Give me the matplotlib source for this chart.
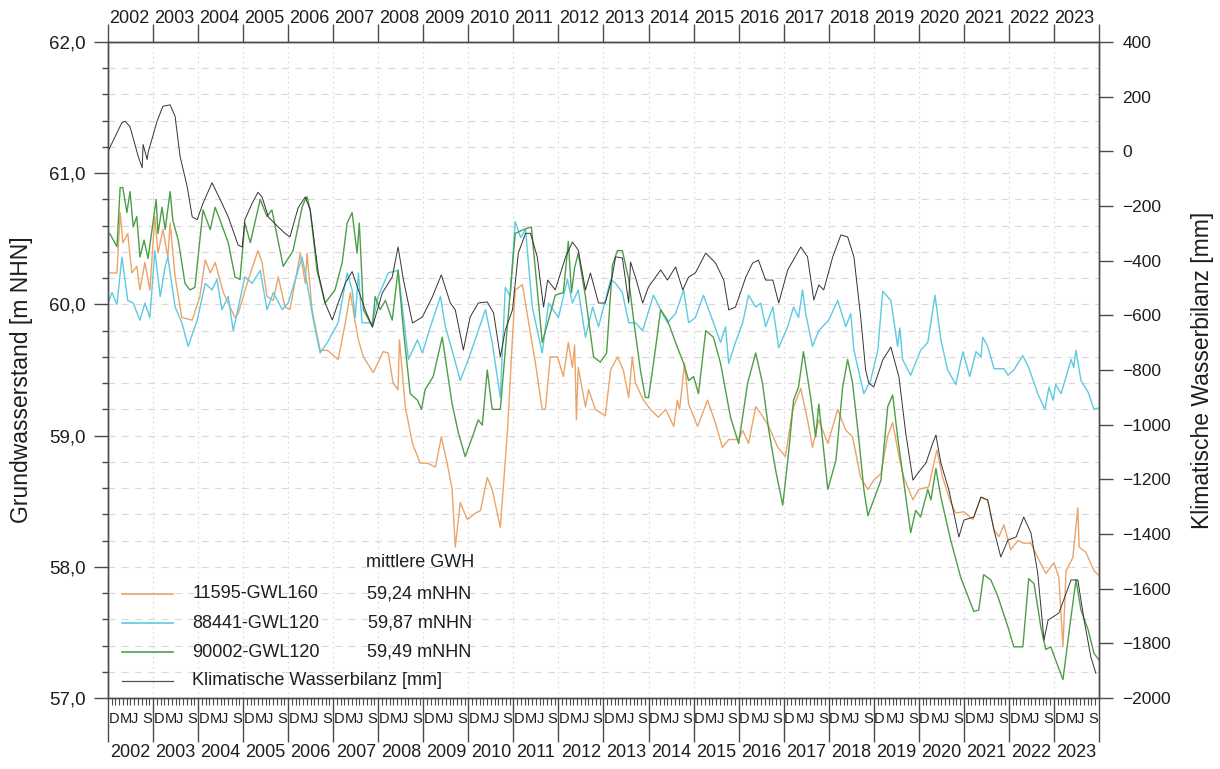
import matplotlib
matplotlib.use('Agg')
import matplotlib.pyplot as plt
from matplotlib.ticker import FuncFormatter, MultipleLocator
from matplotlib.lines import Line2D
import numpy as np

plt.rcParams['font.family'] = ['Liberation Sans', 'DejaVu Sans']

# --- data (decimal years, m NHN / mm) ---
gwl11595_year = [2002.04, 2002.20, 2002.27, 2002.33, 2002.44, 2002.53, 2002.64, 2002.71, 2002.82, 2002.93,
                 2003.04, 2003.11, 2003.22, 2003.33, 2003.38, 2003.49, 2003.64, 2003.87, 2004.04, 2004.16,
                 2004.27, 2004.38, 2004.56, 2004.82, 2004.89, 2005.09, 2005.33, 2005.42, 2005.53, 2005.67,
                 2005.78, 2005.93, 2006.04, 2006.27, 2006.38, 2006.42, 2006.53, 2006.71, 2006.87, 2007.04,
                 2007.11, 2007.27, 2007.38, 2007.49, 2007.56, 2007.67, 2007.89, 2008.11, 2008.22, 2008.33,
                 2008.44, 2008.47, 2008.60, 2008.76, 2008.93, 2009.09, 2009.27, 2009.40, 2009.53, 2009.64,
                 2009.71, 2009.82, 2009.98, 2010.16, 2010.27, 2010.42, 2010.53, 2010.71, 2010.87, 2010.98,
                 2011.04, 2011.20, 2011.33, 2011.49, 2011.64, 2011.71, 2011.82, 2011.98, 2012.11, 2012.22,
                 2012.31, 2012.36, 2012.40, 2012.44, 2012.60, 2012.67, 2012.82, 2013.04, 2013.16, 2013.31,
                 2013.44, 2013.56, 2013.64, 2013.71, 2013.89, 2014.04, 2014.22, 2014.38, 2014.56, 2014.64,
                 2014.69, 2014.80, 2014.89, 2015.09, 2015.31, 2015.49, 2015.64, 2015.78, 2016.00, 2016.09,
                 2016.22, 2016.38, 2016.49, 2016.67, 2016.87, 2017.04, 2017.20, 2017.38, 2017.53, 2017.64,
                 2017.78, 2017.98, 2018.20, 2018.38, 2018.53, 2018.71, 2018.87, 2019.00, 2019.16, 2019.31,
                 2019.42, 2019.56, 2019.67, 2019.87, 2020.00, 2020.22, 2020.40, 2020.53, 2020.71, 2020.82,
                 2021.00, 2021.20, 2021.38, 2021.53, 2021.67, 2021.78, 2021.89, 2022.04, 2022.20, 2022.33,
                 2022.49, 2022.67, 2022.82, 2023.00, 2023.11, 2023.20, 2023.27, 2023.42, 2023.53, 2023.56,
                 2023.71, 2023.89, 2023.98]
gwl11595_level = [60.24, 60.24, 60.70, 60.47, 60.54, 60.24, 60.29, 60.11, 60.32, 60.11,
                  60.67, 60.39, 60.57, 60.36, 60.62, 60.21, 59.90, 59.88, 60.06, 60.34,
                  60.24, 60.32, 60.09, 59.90, 59.93, 60.16, 60.41, 60.32, 60.06, 60.03,
                  60.21, 59.98, 59.96, 60.39, 60.16, 60.39, 59.96, 59.65, 59.65, 59.60,
                  59.58, 59.86, 60.09, 59.86, 59.73, 59.60, 59.48, 59.64, 59.63, 59.40,
                  59.35, 59.73, 59.22, 58.94, 58.79, 58.79, 58.76, 58.99, 58.79, 58.59,
                  58.15, 58.49, 58.36, 58.41, 58.43, 58.68, 58.59, 58.30, 59.04, 59.75,
                  60.11, 60.15, 59.88, 59.55, 59.20, 59.20, 59.60, 59.60, 59.45, 59.71,
                  59.52, 59.69, 59.12, 59.52, 59.22, 59.35, 59.20, 59.15, 59.50, 59.60,
                  59.50, 59.29, 59.60, 59.40, 59.27, 59.20, 59.14, 59.20, 59.07, 59.27,
                  59.20, 59.55, 59.24, 59.07, 59.27, 59.09, 58.91, 58.97, 58.97, 59.04,
                  58.94, 59.22, 59.17, 59.07, 58.91, 58.84, 59.20, 59.36, 59.12, 58.91,
                  59.12, 58.94, 59.20, 59.04, 58.99, 58.68, 58.59, 58.66, 58.71, 59.00,
                  59.10, 58.84, 58.68, 58.51, 58.59, 58.61, 58.89, 58.68, 58.49, 58.41,
                  58.42, 58.36, 58.53, 58.51, 58.28, 58.23, 58.32, 58.13, 58.20, 58.18,
                  58.18, 58.05, 57.95, 58.03, 57.92, 57.39, 57.97, 58.07, 58.45, 58.15,
                  58.11, 57.97, 57.94]

gwl88441_year = [2002.00, 2002.09, 2002.20, 2002.31, 2002.44, 2002.56, 2002.71, 2002.82, 2002.93, 2003.04,
                 2003.16, 2003.27, 2003.33, 2003.49, 2003.64, 2003.78, 2003.98, 2004.16, 2004.31, 2004.42,
                 2004.53, 2004.67, 2004.78, 2005.04, 2005.20, 2005.38, 2005.53, 2005.67, 2005.87, 2006.00,
                 2006.31, 2006.42, 2006.56, 2006.71, 2006.87, 2007.11, 2007.31, 2007.42, 2007.49, 2007.56,
                 2007.64, 2007.87, 2008.00, 2008.22, 2008.44, 2008.67, 2008.87, 2008.98, 2009.16, 2009.38,
                 2009.49, 2009.64, 2009.82, 2010.00, 2010.20, 2010.38, 2010.53, 2010.71, 2010.82, 2010.93,
                 2011.04, 2011.16, 2011.27, 2011.42, 2011.64, 2011.78, 2012.00, 2012.20, 2012.31, 2012.44,
                 2012.60, 2012.76, 2012.89, 2013.16, 2013.27, 2013.42, 2013.56, 2013.71, 2013.87, 2014.11,
                 2014.31, 2014.42, 2014.60, 2014.78, 2014.89, 2015.04, 2015.22, 2015.42, 2015.60, 2015.71,
                 2015.78, 2015.93, 2016.09, 2016.22, 2016.38, 2016.49, 2016.60, 2016.76, 2016.89, 2017.09,
                 2017.22, 2017.33, 2017.42, 2017.49, 2017.64, 2017.78, 2018.00, 2018.20, 2018.38, 2018.49,
                 2018.56, 2018.78, 2018.93, 2019.09, 2019.20, 2019.38, 2019.53, 2019.58, 2019.64, 2019.82,
                 2020.04, 2020.20, 2020.36, 2020.49, 2020.64, 2020.82, 2020.98, 2021.13, 2021.27, 2021.38,
                 2021.42, 2021.53, 2021.67, 2021.89, 2021.98, 2022.11, 2022.31, 2022.44, 2022.64, 2022.80,
                 2022.89, 2022.98, 2023.04, 2023.16, 2023.38, 2023.44, 2023.49, 2023.60, 2023.76, 2023.89,
                 2023.98]
gwl88441_level = [60.01, 60.09, 60.00, 60.36, 60.03, 60.01, 59.88, 60.01, 59.90, 60.41,
                  60.06, 60.29, 60.36, 59.98, 59.86, 59.68, 59.88, 60.16, 60.11, 60.19,
                  59.96, 60.06, 59.80, 60.21, 60.16, 60.26, 59.96, 60.09, 59.96, 60.01,
                  60.36, 60.16, 59.88, 59.63, 59.71, 59.86, 60.24, 60.11, 59.90, 60.24,
                  59.86, 59.86, 60.06, 60.24, 60.26, 59.58, 59.73, 59.63, 59.83, 60.06,
                  59.83, 59.65, 59.42, 59.58, 59.78, 59.96, 59.71, 59.29, 60.13, 60.06,
                  60.63, 60.51, 60.57, 59.98, 59.63, 60.01, 59.90, 60.19, 60.01, 60.11,
                  59.75, 59.98, 59.83, 60.19, 60.16, 60.09, 59.86, 59.86, 59.80, 60.07,
                  59.93, 59.86, 59.93, 60.11, 59.86, 59.90, 60.07, 59.88, 59.71, 59.83,
                  59.55, 59.71, 59.86, 60.07, 59.98, 60.01, 59.83, 59.98, 59.67, 59.83,
                  59.98, 59.90, 60.11, 59.93, 59.68, 59.80, 59.88, 60.03, 59.83, 59.93,
                  59.65, 59.32, 59.42, 59.65, 60.10, 60.03, 59.68, 59.82, 59.58, 59.46,
                  59.65, 59.71, 60.07, 59.73, 59.50, 59.39, 59.64, 59.45, 59.64, 59.60,
                  59.75, 59.68, 59.51, 59.51, 59.46, 59.50, 59.61, 59.52, 59.32, 59.20,
                  59.37, 59.27, 59.39, 59.32, 59.58, 59.52, 59.65, 59.42, 59.33, 59.20,
                  59.21]

gwl90002_year = [2002.04, 2002.20, 2002.27, 2002.33, 2002.42, 2002.49, 2002.56, 2002.64, 2002.71, 2002.80,
                 2002.89, 2003.07, 2003.11, 2003.20, 2003.27, 2003.38, 2003.44, 2003.56, 2003.71, 2003.82,
                 2003.93, 2004.11, 2004.27, 2004.38, 2004.49, 2004.67, 2004.82, 2004.93, 2005.04, 2005.16,
                 2005.38, 2005.53, 2005.64, 2005.89, 2006.11, 2006.31, 2006.38, 2006.42, 2006.49, 2006.64,
                 2006.82, 2007.04, 2007.20, 2007.31, 2007.42, 2007.53, 2007.58, 2007.67, 2007.87, 2007.93,
                 2008.04, 2008.16, 2008.31, 2008.44, 2008.56, 2008.71, 2008.87, 2008.96, 2009.04, 2009.22,
                 2009.42, 2009.64, 2009.78, 2009.93, 2010.09, 2010.22, 2010.31, 2010.42, 2010.53, 2010.71,
                 2010.89, 2011.04, 2011.22, 2011.40, 2011.49, 2011.64, 2011.78, 2011.93, 2012.11, 2012.22,
                 2012.29, 2012.36, 2012.44, 2012.60, 2012.78, 2012.93, 2013.07, 2013.20, 2013.31, 2013.42,
                 2013.56, 2013.67, 2013.82, 2013.93, 2014.00, 2014.11, 2014.27, 2014.42, 2014.60, 2014.78,
                 2014.89, 2015.00, 2015.11, 2015.27, 2015.44, 2015.60, 2015.82, 2016.00, 2016.20, 2016.38,
                 2016.53, 2016.67, 2016.82, 2016.98, 2017.11, 2017.22, 2017.33, 2017.44, 2017.60, 2017.71,
                 2017.78, 2017.98, 2018.16, 2018.31, 2018.42, 2018.53, 2018.67, 2018.78, 2018.87, 2019.00,
                 2019.16, 2019.31, 2019.42, 2019.53, 2019.67, 2019.82, 2019.93, 2020.04, 2020.20, 2020.27,
                 2020.38, 2020.49, 2020.71, 2020.93, 2021.22, 2021.33, 2021.44, 2021.60, 2021.76, 2021.98,
                 2022.11, 2022.31, 2022.44, 2022.56, 2022.71, 2022.82, 2022.93, 2023.20, 2023.38, 2023.49,
                 2023.60, 2023.76, 2023.89, 2024.00]
gwl90002_level = [60.54, 60.44, 60.89, 60.89, 60.70, 60.86, 60.59, 60.67, 60.36, 60.49,
                  60.35, 60.80, 60.54, 60.74, 60.57, 60.86, 60.64, 60.49, 60.16, 60.11,
                  60.13, 60.72, 60.57, 60.74, 60.64, 60.47, 60.21, 60.19, 60.62, 60.47,
                  60.80, 60.67, 60.72, 60.29, 60.41, 60.74, 60.80, 60.82, 60.72, 60.26,
                  60.01, 60.11, 60.32, 60.62, 60.70, 60.39, 60.62, 59.96, 59.83, 60.06,
                  59.96, 60.03, 59.88, 60.26, 59.80, 59.32, 59.27, 59.20, 59.35, 59.45,
                  59.75, 59.24, 59.02, 58.84, 58.99, 59.12, 59.08, 59.50, 59.20, 59.20,
                  59.93, 60.54, 60.57, 60.59, 60.26, 59.71, 59.88, 60.07, 60.09, 60.48,
                  60.09, 60.28, 60.39, 60.06, 59.60, 59.56, 59.63, 60.30, 60.41, 60.41,
                  60.19, 59.88, 59.50, 59.29, 59.29, 59.55, 59.96, 59.88, 59.71, 59.55,
                  59.42, 59.45, 59.32, 59.80, 59.75, 59.55, 59.14, 58.94, 59.40, 59.63,
                  59.40, 59.04, 58.74, 58.47, 58.87, 59.27, 59.37, 59.64, 59.29, 58.99,
                  59.24, 58.59, 58.81, 59.37, 59.58, 59.40, 58.97, 58.59, 58.39, 58.51,
                  58.66, 59.22, 59.31, 58.99, 58.64, 58.26, 58.43, 58.38, 58.59, 58.51,
                  58.75, 58.53, 58.20, 57.92, 57.66, 57.67, 57.94, 57.90, 57.77, 57.54,
                  57.39, 57.39, 57.91, 57.87, 57.54, 57.37, 57.39, 57.14, 57.62, 57.90,
                  57.67, 57.52, 57.34, 57.29]

kwb_year = [2002.00, 2002.31, 2002.38, 2002.49, 2002.67, 2002.76, 2002.78, 2002.87, 2002.89, 2003.09,
            2003.22, 2003.38, 2003.49, 2003.60, 2003.76, 2003.87, 2003.98, 2004.11, 2004.31, 2004.49,
            2004.67, 2004.89, 2004.98, 2005.04, 2005.20, 2005.33, 2005.42, 2005.56, 2005.78, 2005.93,
            2006.04, 2006.22, 2006.38, 2006.49, 2006.67, 2006.82, 2006.98, 2007.11, 2007.27, 2007.42,
            2007.56, 2007.71, 2007.87, 2008.09, 2008.31, 2008.44, 2008.56, 2008.76, 2008.98, 2009.20,
            2009.40, 2009.60, 2009.71, 2009.89, 2010.04, 2010.22, 2010.42, 2010.56, 2010.71, 2010.82,
            2010.98, 2011.11, 2011.27, 2011.38, 2011.53, 2011.67, 2011.76, 2011.93, 2012.16, 2012.31,
            2012.44, 2012.60, 2012.71, 2012.89, 2013.04, 2013.18, 2013.27, 2013.42, 2013.56, 2013.60,
            2013.71, 2013.87, 2014.00, 2014.27, 2014.42, 2014.60, 2014.76, 2014.89, 2015.04, 2015.27,
            2015.49, 2015.67, 2015.78, 2015.93, 2016.16, 2016.31, 2016.44, 2016.60, 2016.76, 2016.89,
            2017.09, 2017.38, 2017.53, 2017.67, 2017.78, 2017.89, 2018.09, 2018.27, 2018.42, 2018.56,
            2018.71, 2018.82, 2018.89, 2019.00, 2019.20, 2019.38, 2019.56, 2019.71, 2019.87, 2019.98,
            2020.16, 2020.31, 2020.38, 2020.49, 2020.67, 2020.89, 2021.00, 2021.22, 2021.38, 2021.53,
            2021.67, 2021.82, 2021.98, 2022.16, 2022.33, 2022.49, 2022.64, 2022.78, 2022.87, 2023.11,
            2023.38, 2023.53, 2023.67, 2023.82, 2023.93]
kwb_mm = [0, 105, 110, 90, -18, -60, 25, -30, -5, 110,
          165, 170, 128, -18, -130, -240, -250, -190, -115, -176,
          -240, -343, -350, -250, -190, -150, -167, -240, -277, -300,
          -313, -207, -167, -215, -445, -555, -617, -555, -482, -440,
          -507, -580, -643, -518, -460, -350, -471, -628, -606, -533,
          -452, -555, -580, -727, -606, -555, -551, -591, -752, -654,
          -580, -372, -300, -300, -386, -570, -471, -507, -386, -332,
          -361, -507, -445, -555, -555, -470, -386, -390, -555, -405,
          -460, -555, -496, -434, -471, -423, -507, -460, -445, -372,
          -409, -471, -580, -570, -460, -409, -398, -471, -471, -555,
          -434, -350, -386, -544, -489, -507, -386, -306, -313, -386,
          -606, -800, -848, -862, -763, -716, -826, -1031, -1203, -1177,
          -1140, -1067, -1038, -1140, -1240, -1411, -1349, -1338, -1265, -1276,
          -1386, -1484, -1422, -1411, -1338, -1396, -1543, -1788, -1715, -1689,
          -1568, -1568, -1715, -1850, -1909]

series_names = ['11595-GWL160', '88441-GWL120', '90002-GWL120']
series_means = ['59,24 mNHN', '59,87 mNHN', '59,49 mNHN']
series_colors = ['#EBA469', '#5DCAE2', '#4E9E48']
kwb_name = 'Klimatische Wasserbilanz [mm]'
years = list(range(2002, 2025))
season_letters = ['D', 'M', 'J', 'S']

# --- figure ---
fig = plt.figure(figsize=(12.2, 7.69), dpi=100)
ax = fig.add_axes([0.0885, 0.0923, 0.8123, 0.8531])
ax2 = ax.twinx()

spine_col = '#4a4a4a'
grid_col = '#d9d9d9'
txt_col = '#1e1e1e'

ax.plot(gwl11595_year, gwl11595_level, color=series_colors[0], lw=1.0)
ax.plot(gwl88441_year, gwl88441_level, color=series_colors[1], lw=1.0)
ax.plot(gwl90002_year, gwl90002_level, color=series_colors[2], lw=1.0)
ax2.plot(kwb_year, kwb_mm, color='#333333', lw=0.7)

ax.set_xlim(2002, 2024)
ax.set_ylim(57, 62)
ax2.set_ylim(-2000, 400)

for a in (ax, ax2):
    for s in a.spines.values():
        s.set_color(spine_col)
        s.set_linewidth(1.0)

# left axis
ax.yaxis.set_major_locator(MultipleLocator(1.0))
ax.yaxis.set_minor_locator(MultipleLocator(0.2))
ax.yaxis.set_major_formatter(FuncFormatter(lambda v, _: f"{v:.1f}".replace('.', ',')))
ax.tick_params(axis='y', which='major', length=10, width=1.0, color=spine_col,
               labelsize=13.5, pad=6, labelcolor=txt_col)
ax.tick_params(axis='y', which='minor', length=4, width=1.0, color=spine_col)
ax.yaxis.grid(True, which='both', linestyle=(0, (6, 6)), color=grid_col, lw=0.8)

# right axis
ax2.yaxis.set_major_locator(MultipleLocator(200))
ax2.tick_params(axis='y', which='major', length=10, width=1.0, color=spine_col,
                labelsize=12.5, pad=7, labelcolor=txt_col)

# bottom axis: years + monthly ticks
ax.set_xticks(years)
ax.set_xticklabels([])
ax.set_xticks(np.arange(2002, 2024, 1 / 12), minor=True)
ax.tick_params(axis='x', which='major', length=32, width=1.0, color=spine_col)
ax.tick_params(axis='x', which='minor', length=5, width=0.8, color=spine_col)
ax.xaxis.grid(True, which='major', linestyle=(0, (1.5, 3)), color=grid_col, lw=0.8)

# top axis: year ticks
top = ax.secondary_xaxis('top')
top.set_xticks(years)
top.set_xticklabels([])
top.tick_params(axis='x', length=13, width=1.0, color=spine_col)
top.spines['top'].set_color(spine_col)

for y in years[:-1]:
    ax.annotate(str(y), xy=(y + 0.5, 0), xycoords=('data', 'axes fraction'),
                xytext=(0, -39), textcoords='offset points', ha='center', va='center',
                fontsize=13, color=txt_col)
    ax.annotate(str(y), xy=(y, 1), xycoords=('data', 'axes fraction'),
                xytext=(0.5, 11), textcoords='offset points', ha='left', va='bottom',
                fontsize=13, color=txt_col)
    for k, letter in enumerate(season_letters):
        ax.annotate(letter, xy=(y + k * 0.25, 0), xycoords=('data', 'axes fraction'),
                    xytext=(0.3, -15), textcoords='offset points', ha='left', va='center',
                    fontsize=10.5, color=txt_col)

fig.text(0.018, 0.506, 'Grundwasserstand [m NHN]', rotation=90, ha='center', va='center',
         fontsize=16.5, color=txt_col)
fig.text(0.986, 0.519, 'Klimatische Wasserbilanz [mm]', rotation=90, ha='center', va='center',
         fontsize=16.5, color=txt_col)

# legend, drawn by hand so the mean column lines up
ax2.text(0.370, 0.206, 'mittlere GWH', transform=ax2.transAxes, ha='right', va='center',
         fontsize=13, color=txt_col)
rows_y = [0.159, 0.114, 0.070, 0.026]
for i in range(3):
    ax2.add_line(Line2D([0.014, 0.066], [rows_y[i], rows_y[i]], transform=ax2.transAxes,
                        color=series_colors[i], lw=1.2))
    ax2.text(0.085, rows_y[i], series_names[i], transform=ax2.transAxes, ha='left', va='center',
             fontsize=13, color=txt_col)
    ax2.text(0.367, rows_y[i], series_means[i], transform=ax2.transAxes, ha='right', va='center',
             fontsize=13, color=txt_col)
ax2.add_line(Line2D([0.014, 0.066], [rows_y[3], rows_y[3]], transform=ax2.transAxes,
                    color='#555555', lw=0.9))
ax2.text(0.085, rows_y[3], kwb_name, transform=ax2.transAxes, ha='left', va='center',
         fontsize=13, color=txt_col)

fig.savefig('out.png', dpi=100)
